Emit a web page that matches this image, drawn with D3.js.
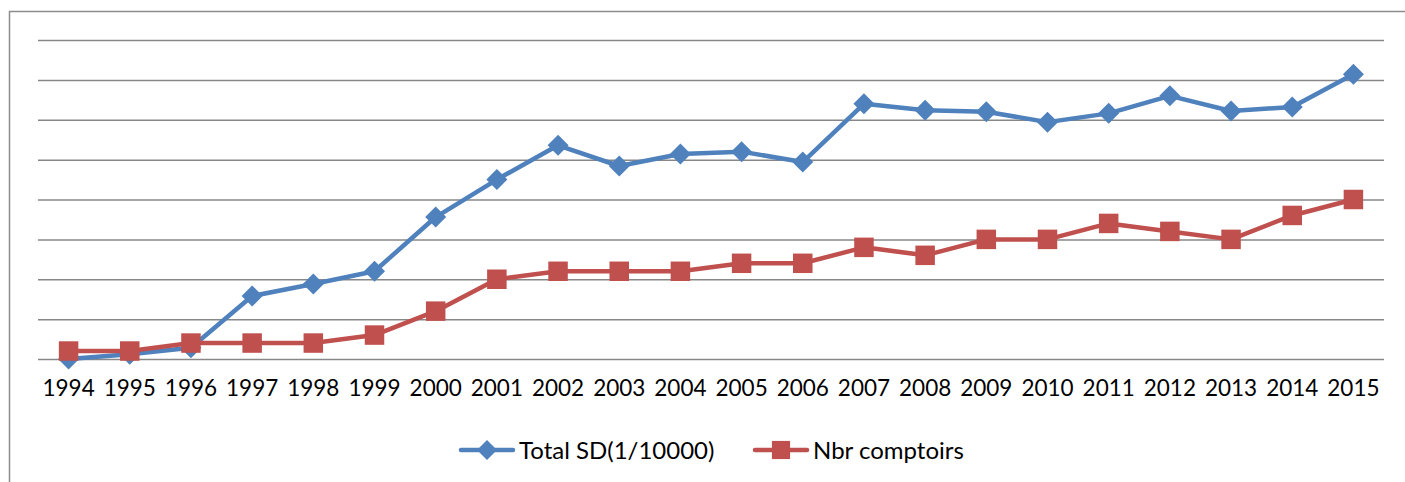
<!DOCTYPE html>
<html>
<head>
<meta charset="utf-8">
<script src="https://cdn.jsdelivr.net/npm/d3@7"></script>
<style>
  body { margin: 0; background: #fff; }
  svg { display: block; font-family: Lato, "Open Sans", sans-serif; }
</style>
</head>
<body>
<div class="graph"></div>
<script>
// data
const years = ["1994","1995","1996","1997","1998","1999","2000","2001","2002","2003","2004",
               "2005","2006","2007","2008","2009","2010","2011","2012","2013","2014","2015"];
const totalSD = [0, 0.6, 1.4, 7.9, 9.4, 11, 17.8, 22.5, 26.8, 24.2, 25.7,
                 26, 24.7, 32, 31.2, 31, 29.7, 30.8, 33, 31.1, 31.6, 35.7];
const comptoirs = [1, 1, 2, 2, 2, 3, 6, 10, 11, 11, 11,
                   12, 12, 14, 13, 15, 15, 17, 16, 15, 18, 20];
const yTicks = [0, 5, 10, 15, 20, 25, 30, 35, 40];

const W = 1405, H = 482;
const margin = { top: 40, right: 21, bottom: 123, left: 38 };
const width = W - margin.left - margin.right;
const height = H - margin.top - margin.bottom;

const blue = "#4f81bd", red = "#c0504d", grid = "#878787";

const svg = d3.select(".graph").append("svg")
    .attr("width", W).attr("height", H);

// chart frame
svg.append("rect")
    .attr("x", 9.5).attr("y", 11.5)
    .attr("width", 1500).attr("height", 600)
    .attr("fill", "none").attr("stroke", "#8c8c8c").attr("stroke-width", 1.5);

const g = svg.append("g")
    .attr("transform", "translate(" + margin.left + "," + margin.top + ")");

const x = d3.scaleBand().domain(years).range([0, width]);
const y = d3.scaleLinear().domain([0, 40]).range([height, 0]);
const cx = d => x(d) + x.bandwidth() / 2;

// horizontal gridlines
g.append("g")
    .call(d3.axisLeft(y).tickValues(yTicks).tickSize(-width).tickFormat(""))
    .call(a => a.select(".domain").remove())
    .call(a => a.selectAll(".tick line").attr("stroke", grid).attr("stroke-width", 1.5));

// x axis labels
g.append("g")
    .attr("transform", "translate(0," + height + ")")
    .call(d3.axisBottom(x).tickSize(0).tickPadding(21))
    .call(a => a.select(".domain").remove())
    .call(a => a.selectAll("text").attr("font-size", 22.5).attr("fill", "#000")
        .attr("font-family", "Lato, sans-serif"));

const line = d3.line().x((d, i) => cx(years[i])).y(d => y(d));

function drawSeries(values, colour, symbol) {
    g.append("path")
        .datum(values)
        .attr("fill", "none")
        .attr("stroke", colour)
        .attr("stroke-width", 4.5)
        .attr("stroke-linejoin", "round")
        .attr("d", line);
    g.selectAll(null)
        .data(values)
        .enter().append("path")
        .attr("transform", (d, i) => "translate(" + cx(years[i]) + "," + y(d) + ")")
        .attr("d", symbol)
        .attr("fill", colour);
}

const diamondPath = "M0,-10.5L10.5,0L0,10.5L-10.5,0Z";
const squarePath = d3.symbol().type(d3.symbolSquare).size(380)();
drawSeries(totalSD, blue, diamondPath);
drawSeries(comptoirs, red, squarePath);

// legend
const legend = [
    { name: "Total SD(1/10000)", colour: blue, x: 461, shape: "M0,-10L10,0L0,10L-10,0Z" },
    { name: "Nbr comptoirs", colour: red, x: 755, shape: d3.symbol().type(d3.symbolSquare).size(330)() }
];
const lg = svg.append("g").selectAll("g")
    .data(legend).enter().append("g")
    .attr("transform", d => "translate(" + d.x + ",450)");
lg.append("line")
    .attr("x1", 0).attr("x2", 52)
    .attr("stroke", d => d.colour).attr("stroke-width", 4.5).attr("stroke-linecap", "round");
lg.append("path")
    .attr("transform", "translate(26,0)")
    .attr("d", d => d.shape)
    .attr("fill", d => d.colour);
lg.append("text")
    .attr("x", 58).attr("dy", "0.36em")
    .attr("font-size", 24)
    .text(d => d.name);
</script>
</body>
</html>
